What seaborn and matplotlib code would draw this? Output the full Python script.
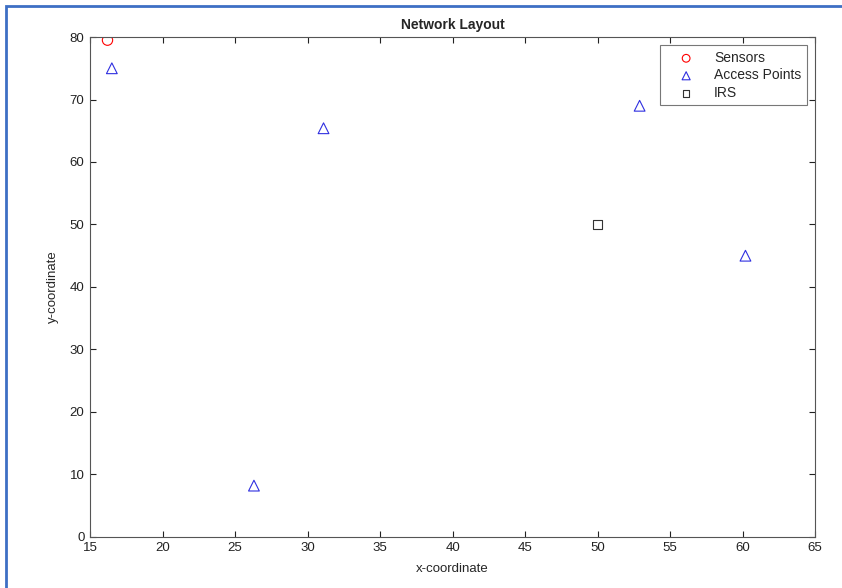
import pandas as pd
import numpy as np
import seaborn as sns
import matplotlib.pyplot as plt
from matplotlib.patches import Rectangle

# node positions
sensor_x = [16.2]
sensor_y = [79.5]
ap_x = [16.5, 31.1, 26.3, 52.9, 60.2]
ap_y = [75.0, 65.4, 8.2, 69.0, 45.0]
irs_x = [50.0]
irs_y = [50.0]

x_ticks = [15, 20, 25, 30, 35, 40, 45, 50, 55, 60, 65]
y_ticks = [0, 10, 20, 30, 40, 50, 60, 70, 80]

sns.set_style("white")
plt.rcParams['font.family'] = ['Liberation Sans', 'DejaVu Sans']

fig = plt.figure(figsize=(8.42, 5.88), dpi=100)
ax = fig.add_axes([0.107, 0.087, 0.861, 0.850])

# outer blue frame of the page
fig.patches.append(Rectangle((0.007, -0.01), 1.0, 1.0, transform=fig.transFigure,
                             fill=False, edgecolor='#3d6fc4', linewidth=2.0))

sns.scatterplot(x=sensor_x, y=sensor_y, marker='o', s=55, facecolor='none',
                edgecolor='red', linewidth=0.8, label='Sensors', ax=ax)
sns.scatterplot(x=ap_x, y=ap_y, marker='^', s=60, facecolor='none',
                edgecolor='#2f2fe0', linewidth=0.8, label='Access Points', ax=ax)
sns.scatterplot(x=irs_x, y=irs_y, marker='s', s=40, facecolor='none',
                edgecolor='#333333', linewidth=0.8, label='IRS', ax=ax)

ax.set_xlim(15, 65)
ax.set_ylim(0, 80)
ax.set_xticks(x_ticks)
ax.set_yticks(y_ticks)
ax.tick_params(direction='in', length=4, labelsize=9.5, colors='#222222', pad=4,
               top=True, right=True, bottom=True, left=True)
for sp in ax.spines.values():
    sp.set_color('#555555')
    sp.set_linewidth(0.8)

ax.set_title('Network Layout', fontsize=10, fontweight='bold', pad=6)
ax.set_xlabel('x-coordinate', fontsize=9.5, labelpad=6)
ax.set_ylabel('y-coordinate', fontsize=9.5, labelpad=8)

leg = ax.legend(loc='upper right', fontsize=10, frameon=True, fancybox=False,
                edgecolor='#555555', borderaxespad=0.6, handletextpad=0.5,
                labelspacing=0.25, borderpad=0.4, handlelength=3.0,
                markerscale=0.75)
leg.get_frame().set_linewidth(0.8)

fig.savefig('out.png', dpi=100)
